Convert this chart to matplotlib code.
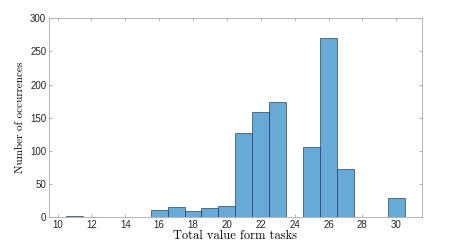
import numpy as np
import matplotlib.pyplot as plt

# valores do histograma (centro de cada bin e contagem)
task_values = [11, 12, 13, 14, 15, 16, 17, 18, 19, 20, 21, 22, 23, 24, 25, 26, 27, 28, 29, 30]
counts = [1, 0, 0, 0, 0, 11, 15, 9, 13, 16, 127, 158, 173, 0, 105, 270, 73, 0, 0, 29]
xticks = [10, 12, 14, 16, 18, 20, 22, 24, 26, 28, 30]
yticks = [0, 50, 100, 150, 200, 250, 300]

fig = plt.figure(figsize=(4.67, 2.44), dpi=100)
ax = fig.add_axes([0.105, 0.111, 0.798, 0.814])

ax.bar(task_values, counts, width=1.0, color='#66aad7',
       edgecolor=(0.1, 0.2, 0.3, 0.75), linewidth=0.6)

ax.set_xlim(9.5, 31.5)
ax.set_ylim(0, 300)
ax.set_xticks(xticks)
ax.set_yticks(yticks)
ax.tick_params(direction='in', length=2.5, width=0.5, colors='#999999',
               labelcolor='#262626', labelsize=7, top=True, right=True, pad=2)
for lbl in ax.get_xticklabels() + ax.get_yticklabels():
    lbl.set_family('Liberation Sans')
for s in ax.spines.values():
    s.set_color('#aaaaaa')
    s.set_linewidth(0.6)

ax.set_xlabel('Total value form tasks', family='cmr10', fontsize=9, labelpad=0)
ax.set_ylabel('Number of occurrences', family='cmr10', fontsize=8, labelpad=4)

fig.savefig('out.png', dpi=100)
